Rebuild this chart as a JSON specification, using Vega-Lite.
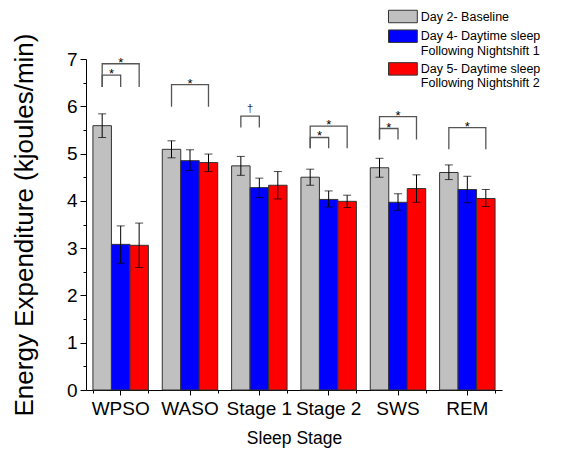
{
  "$schema": "https://vega.github.io/schema/vega-lite/v6.json",
  "width": 416,
  "height": 331,
  "autosize": {"type": "none"},
  "padding": {"left": 86, "top": 59, "right": 81, "bottom": 63},
  "background": "white",
  "config": {
    "view": {"stroke": null},
    "font": "Liberation Sans",
    "axis": {"grid": false, "domainColor": "black", "tickColor": "black", "labelColor": "black", "titleColor": "black", "labelFont": "Liberation Sans", "titleFont": "Liberation Sans", "titleFontWeight": "normal"}
  },
  "datasets": {
    "bars": [
      {"stage": "WPSO", "group": "Day 2- Baseline", "value": 5.59, "hi": 5.84, "lo": 5.34},
      {"stage": "WPSO", "group": "Day 4- Daytime sleep|Following Nightshift 1", "value": 3.08, "hi": 3.47, "lo": 2.68},
      {"stage": "WPSO", "group": "Day 5- Daytime sleep|Following Nightshift 2", "value": 3.06, "hi": 3.53, "lo": 2.59},
      {"stage": "WASO", "group": "Day 2- Baseline", "value": 5.09, "hi": 5.27, "lo": 4.91},
      {"stage": "WASO", "group": "Day 4- Daytime sleep|Following Nightshift 1", "value": 4.85, "hi": 5.08, "lo": 4.64},
      {"stage": "WASO", "group": "Day 5- Daytime sleep|Following Nightshift 2", "value": 4.81, "hi": 4.99, "lo": 4.62},
      {"stage": "Stage 1", "group": "Day 2- Baseline", "value": 4.74, "hi": 4.94, "lo": 4.54},
      {"stage": "Stage 1", "group": "Day 4- Daytime sleep|Following Nightshift 1", "value": 4.28, "hi": 4.48, "lo": 4.07},
      {"stage": "Stage 1", "group": "Day 5- Daytime sleep|Following Nightshift 2", "value": 4.33, "hi": 4.62, "lo": 4.04},
      {"stage": "Stage 2", "group": "Day 2- Baseline", "value": 4.50, "hi": 4.67, "lo": 4.33},
      {"stage": "Stage 2", "group": "Day 4- Daytime sleep|Following Nightshift 1", "value": 4.03, "hi": 4.21, "lo": 3.87},
      {"stage": "Stage 2", "group": "Day 5- Daytime sleep|Following Nightshift 2", "value": 3.99, "hi": 4.12, "lo": 3.86},
      {"stage": "SWS", "group": "Day 2- Baseline", "value": 4.70, "hi": 4.90, "lo": 4.50},
      {"stage": "SWS", "group": "Day 4- Daytime sleep|Following Nightshift 1", "value": 3.97, "hi": 4.15, "lo": 3.80},
      {"stage": "SWS", "group": "Day 5- Daytime sleep|Following Nightshift 2", "value": 4.26, "hi": 4.55, "lo": 3.97},
      {"stage": "REM", "group": "Day 2- Baseline", "value": 4.60, "hi": 4.76, "lo": 4.45},
      {"stage": "REM", "group": "Day 4- Daytime sleep|Following Nightshift 1", "value": 4.24, "hi": 4.52, "lo": 3.96},
      {"stage": "REM", "group": "Day 5- Daytime sleep|Following Nightshift 2", "value": 4.05, "hi": 4.24, "lo": 3.88}
    ],
    "brackets": [
      {"id": "WPSO-in", "ord": 1, "stage": "WPSO", "group": "Day 2- Baseline", "y": 6.41},
      {"id": "WPSO-in", "ord": 2, "stage": "WPSO", "group": "Day 2- Baseline", "y": 6.66},
      {"id": "WPSO-in", "ord": 3, "stage": "WPSO", "group": "Day 4- Daytime sleep|Following Nightshift 1", "y": 6.66},
      {"id": "WPSO-in", "ord": 4, "stage": "WPSO", "group": "Day 4- Daytime sleep|Following Nightshift 1", "y": 6.41},
      {"id": "WPSO-out", "ord": 1, "stage": "WPSO", "group": "Day 2- Baseline", "y": 6.41},
      {"id": "WPSO-out", "ord": 2, "stage": "WPSO", "group": "Day 2- Baseline", "y": 6.90},
      {"id": "WPSO-out", "ord": 3, "stage": "WPSO", "group": "Day 5- Daytime sleep|Following Nightshift 2", "y": 6.90},
      {"id": "WPSO-out", "ord": 4, "stage": "WPSO", "group": "Day 5- Daytime sleep|Following Nightshift 2", "y": 6.41},
      {"id": "WASO-out", "ord": 1, "stage": "WASO", "group": "Day 2- Baseline", "y": 5.99},
      {"id": "WASO-out", "ord": 2, "stage": "WASO", "group": "Day 2- Baseline", "y": 6.46},
      {"id": "WASO-out", "ord": 3, "stage": "WASO", "group": "Day 5- Daytime sleep|Following Nightshift 2", "y": 6.46},
      {"id": "WASO-out", "ord": 4, "stage": "WASO", "group": "Day 5- Daytime sleep|Following Nightshift 2", "y": 5.99},
      {"id": "S1-in", "ord": 1, "stage": "Stage 1", "group": "Day 2- Baseline", "y": 5.55},
      {"id": "S1-in", "ord": 2, "stage": "Stage 1", "group": "Day 2- Baseline", "y": 5.79},
      {"id": "S1-in", "ord": 3, "stage": "Stage 1", "group": "Day 4- Daytime sleep|Following Nightshift 1", "y": 5.79},
      {"id": "S1-in", "ord": 4, "stage": "Stage 1", "group": "Day 4- Daytime sleep|Following Nightshift 1", "y": 5.55},
      {"id": "S2-in", "ord": 1, "stage": "Stage 2", "group": "Day 2- Baseline", "y": 5.11},
      {"id": "S2-in", "ord": 2, "stage": "Stage 2", "group": "Day 2- Baseline", "y": 5.34},
      {"id": "S2-in", "ord": 3, "stage": "Stage 2", "group": "Day 4- Daytime sleep|Following Nightshift 1", "y": 5.34},
      {"id": "S2-in", "ord": 4, "stage": "Stage 2", "group": "Day 4- Daytime sleep|Following Nightshift 1", "y": 5.11},
      {"id": "S2-out", "ord": 1, "stage": "Stage 2", "group": "Day 2- Baseline", "y": 5.11},
      {"id": "S2-out", "ord": 2, "stage": "Stage 2", "group": "Day 2- Baseline", "y": 5.58},
      {"id": "S2-out", "ord": 3, "stage": "Stage 2", "group": "Day 5- Daytime sleep|Following Nightshift 2", "y": 5.58},
      {"id": "S2-out", "ord": 4, "stage": "Stage 2", "group": "Day 5- Daytime sleep|Following Nightshift 2", "y": 5.11},
      {"id": "SWS-in", "ord": 1, "stage": "SWS", "group": "Day 2- Baseline", "y": 5.30},
      {"id": "SWS-in", "ord": 2, "stage": "SWS", "group": "Day 2- Baseline", "y": 5.53},
      {"id": "SWS-in", "ord": 3, "stage": "SWS", "group": "Day 4- Daytime sleep|Following Nightshift 1", "y": 5.53},
      {"id": "SWS-in", "ord": 4, "stage": "SWS", "group": "Day 4- Daytime sleep|Following Nightshift 1", "y": 5.30},
      {"id": "SWS-out", "ord": 1, "stage": "SWS", "group": "Day 2- Baseline", "y": 5.30},
      {"id": "SWS-out", "ord": 2, "stage": "SWS", "group": "Day 2- Baseline", "y": 5.78},
      {"id": "SWS-out", "ord": 3, "stage": "SWS", "group": "Day 5- Daytime sleep|Following Nightshift 2", "y": 5.78},
      {"id": "SWS-out", "ord": 4, "stage": "SWS", "group": "Day 5- Daytime sleep|Following Nightshift 2", "y": 5.30},
      {"id": "REM-out", "ord": 1, "stage": "REM", "group": "Day 2- Baseline", "y": 5.09},
      {"id": "REM-out", "ord": 2, "stage": "REM", "group": "Day 2- Baseline", "y": 5.55},
      {"id": "REM-out", "ord": 3, "stage": "REM", "group": "Day 5- Daytime sleep|Following Nightshift 2", "y": 5.55},
      {"id": "REM-out", "ord": 4, "stage": "REM", "group": "Day 5- Daytime sleep|Following Nightshift 2", "y": 5.09}
    ],
    "starsOuter": [
      {"stage": "WPSO", "group": "Day 4- Daytime sleep|Following Nightshift 1", "y": 6.90, "label": "*"},
      {"stage": "WASO", "group": "Day 4- Daytime sleep|Following Nightshift 1", "y": 6.46, "label": "*"},
      {"stage": "Stage 2", "group": "Day 4- Daytime sleep|Following Nightshift 1", "y": 5.58, "label": "*"},
      {"stage": "SWS", "group": "Day 4- Daytime sleep|Following Nightshift 1", "y": 5.78, "label": "*"},
      {"stage": "REM", "group": "Day 4- Daytime sleep|Following Nightshift 1", "y": 5.55, "label": "*"}
    ],
    "starsInner": [
      {"stage": "WPSO", "group": "Day 4- Daytime sleep|Following Nightshift 1", "y": 6.66, "label": "*"},
      {"stage": "Stage 2", "group": "Day 4- Daytime sleep|Following Nightshift 1", "y": 5.34, "label": "*"},
      {"stage": "SWS", "group": "Day 4- Daytime sleep|Following Nightshift 1", "y": 5.53, "label": "*"}
    ],
    "dagger": [
      {"stage": "Stage 1", "group": "Day 4- Daytime sleep|Following Nightshift 1", "y": 5.79, "label": "†"}
    ]
  },
  "encoding": {
    "xOffset": {
      "field": "group", "type": "nominal",
      "sort": ["Day 2- Baseline", "Day 4- Daytime sleep|Following Nightshift 1", "Day 5- Daytime sleep|Following Nightshift 2"],
      "scale": {"paddingInner": 0, "paddingOuter": 0}
    }
  },
  "resolve": {"axis": {"x": "independent", "y": "independent"}},
  "layer": [
    {
      "data": {"name": "bars"},
      "mark": {"type": "bar", "stroke": "#333333", "strokeWidth": 1},
      "encoding": {
        "x": {
          "field": "stage", "type": "nominal",
          "sort": ["WPSO", "WASO", "Stage 1", "Stage 2", "SWS", "REM"],
          "scale": {"paddingInner": 0.2, "paddingOuter": 0.1},
          "axis": {"orient": "bottom", "title": "Sleep Stage", "titleFontSize": 17.5, "titlePadding": 11, "labelFontSize": 19, "labelAngle": 0, "labelPadding": 4, "tickSize": 5, "labelColor": "black"}
        },
        "y": {
          "field": "value", "type": "quantitative",
          "scale": {"domain": [0, 7], "nice": false},
          "axis": {"orient": "left", "title": "Energy Expenditure (kjoules/min)", "titleFontSize": 26, "titlePadding": 29, "labelFontSize": 19, "values": [0, 1, 2, 3, 4, 5, 6, 7], "tickSize": 6, "labelPadding": 3}
        },
        "color": {
          "field": "group", "type": "nominal",
          "sort": ["Day 2- Baseline", "Day 4- Daytime sleep|Following Nightshift 1", "Day 5- Daytime sleep|Following Nightshift 2"],
          "scale": {"range": ["#C0C0C0", "#0000FF", "#FF0000"]},
          "legend": {
            "title": null,
            "orient": "none",
            "legendX": 310.4,
            "legendY": -49,
            "labelExpr": "split(replace(datum.label, '|', '|\u00a0\u00a0\u00a0\u00a0\u00a0\u00a0'), '|')",
            "labelFontSize": 12.5,
            "labelFont": "Liberation Sans",
            "labelColor": "black",
            "labelLimit": 300,
            "symbolType": "M-2.4,-1.04H2.4V1.04H-2.4Z",
            "symbolSize": 144,
            "symbolStrokeColor": "#333333",
            "symbolStrokeWidth": 1,
            "symbolOpacity": 1,
            "rowPadding": 2.7,
            "labelOffset": 11.4
          }
        }
      }
    },
    {
      "data": {"name": "bars"},
      "mark": {"type": "rule", "color": "black", "strokeWidth": 1},
      "encoding": {
        "x": {"field": "stage", "type": "nominal", "sort": ["WPSO", "WASO", "Stage 1", "Stage 2", "SWS", "REM"], "axis": {"orient": "bottom", "title": null, "labels": false, "domain": false, "tickBand": "extent", "tickSize": 3}},
        "y": {"field": "hi", "type": "quantitative", "axis": {"orient": "left", "title": null, "labels": false, "domain": false, "values": [0.5, 1.5, 2.5, 3.5, 4.5, 5.5, 6.5], "tickSize": 3}},
        "y2": {"field": "lo"}
      }
    },
    {
      "data": {"name": "bars"},
      "mark": {"type": "tick", "color": "black", "size": 8, "thickness": 1, "orient": "horizontal"},
      "encoding": {
        "x": {"field": "stage", "type": "nominal", "sort": ["WPSO", "WASO", "Stage 1", "Stage 2", "SWS", "REM"], "axis": null},
        "y": {"field": "hi", "type": "quantitative", "axis": null}
      }
    },
    {
      "data": {"name": "bars"},
      "mark": {"type": "tick", "color": "black", "size": 8, "thickness": 1, "orient": "horizontal"},
      "encoding": {
        "x": {"field": "stage", "type": "nominal", "sort": ["WPSO", "WASO", "Stage 1", "Stage 2", "SWS", "REM"], "axis": null},
        "y": {"field": "lo", "type": "quantitative", "axis": null}
      }
    },
    {
      "data": {"name": "brackets"},
      "mark": {"type": "line", "color": "#555555", "strokeWidth": 1.3},
      "encoding": {
        "x": {"field": "stage", "type": "nominal", "sort": ["WPSO", "WASO", "Stage 1", "Stage 2", "SWS", "REM"], "axis": null},
        "y": {"field": "y", "type": "quantitative", "axis": null},
        "detail": {"field": "id"},
        "order": {"field": "ord"}
      }
    },
    {
      "data": {"name": "starsOuter"},
      "mark": {"type": "text", "fontSize": 13, "baseline": "alphabetic", "dy": 3, "color": "black"},
      "encoding": {
        "x": {"field": "stage", "type": "nominal", "sort": ["WPSO", "WASO", "Stage 1", "Stage 2", "SWS", "REM"], "axis": null},
        "y": {"field": "y", "type": "quantitative", "axis": null},
        "text": {"field": "label"}
      }
    },
    {
      "data": {"name": "starsInner"},
      "mark": {"type": "text", "fontSize": 13, "baseline": "alphabetic", "dy": 3, "dx": -9.2, "color": "black"},
      "encoding": {
        "x": {"field": "stage", "type": "nominal", "sort": ["WPSO", "WASO", "Stage 1", "Stage 2", "SWS", "REM"], "axis": null},
        "y": {"field": "y", "type": "quantitative", "axis": null},
        "text": {"field": "label"}
      }
    },
    {
      "data": {"name": "dagger"},
      "mark": {"type": "text", "fontSize": 11, "baseline": "alphabetic", "dy": -4, "dx": -9.2, "color": "#333333", "font": "Liberation Sans"},
      "encoding": {
        "x": {"field": "stage", "type": "nominal", "sort": ["WPSO", "WASO", "Stage 1", "Stage 2", "SWS", "REM"], "axis": null},
        "y": {"field": "y", "type": "quantitative", "axis": null},
        "text": {"field": "label"}
      }
    }
  ]
}
